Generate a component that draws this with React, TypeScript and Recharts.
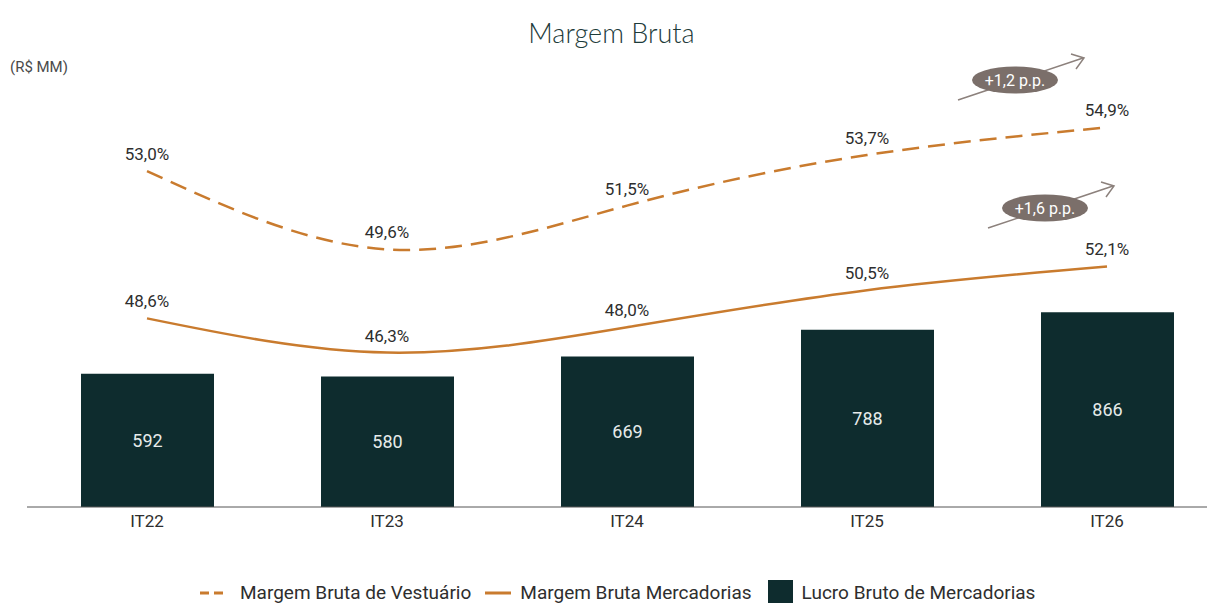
import {
  Bar,
  ComposedChart,
  LabelList,
  Line,
  XAxis,
  YAxis,
} from "recharts";

const categories = ["IT22", "IT23", "IT24", "IT25", "IT26"];
const lucroBruto = [592, 580, 669, 788, 866];
const margemMercadorias = [48.6, 46.3, 48.0, 50.5, 52.1];
const margemVestuario = [53.0, 49.6, 51.5, 53.7, 54.9];
const deltaLabels = ["+1,2 p.p.", "+1,6 p.p."];

const data = categories.map((name, i) => ({
  name,
  lucro: lucroBruto[i],
  mercadorias: margemMercadorias[i],
  vestuario: margemVestuario[i],
}));

const ORANGE = "#c97b2e";
const BAR = "#0e2c2e";
const TEXT = "#2e2e2e";
const FONT = "Roboto, 'Noto Sans', sans-serif";

const fmtPct = (v: unknown) => `${Number(v).toFixed(1).replace(".", ",")}%`;

function Delta({ x, y, label }: { x: number; y: number; label: string }) {
  // pill + arrow, drawn as an overlay
  return (
    <g>
      <line x1={x - 57} y1={y + 20} x2={x + 68} y2={y - 22} stroke="#8c817c" strokeWidth={1.5} />
      <polyline
        points={`${x + 56},${y - 26} ${x + 69},${y - 22} ${x + 61},${y - 11}`}
        fill="none"
        stroke="#8c817c"
        strokeWidth={1.5}
      />
      <ellipse cx={x} cy={y} rx={43} ry={13.5} fill="#7b6f6a" />
      <text x={x} y={y + 6} textAnchor="middle" fill="#fff" fontSize={16} fontFamily={FONT}>
        {label}
      </text>
    </g>
  );
}

export default function App() {
  return (
    <div style={{ position: "relative", width: 1219, height: 595, fontFamily: FONT }}>
      <div
        style={{
          position: "absolute",
          left: 0,
          width: 1207,
          top: 8,
          textAlign: "center",
          fontFamily: "Lato, sans-serif",
          fontWeight: 300,
          fontSize: 27,
          color: "#1d3b3a",
        }}
      >
        Margem Bruta
      </div>
      <div style={{ position: "absolute", left: 2, top: 50, fontSize: 15, color: "#4a4a4a" }}>
        (R$ MM)
      </div>

      <ComposedChart
        width={1219}
        height={529}
        data={data}
        margin={{ top: 49, right: 0, left: 19, bottom: 0 }}
        style={{ position: "absolute", left: 0, top: 0 }}
      >
        <XAxis
          dataKey="name"
          tickLine={false}
          axisLine={{ stroke: "#555", strokeWidth: 1 }}
          tick={{ fill: TEXT, fontSize: 17, fontFamily: FONT }}
          height={30}
        />
        <YAxis yAxisId="bar" hide domain={[0, 2000]} />
        <YAxis yAxisId="merc" hide domain={[35.9, 66.2]} />
        <YAxis yAxisId="vest" hide domain={[38.4, 57.96]} />
        <Bar yAxisId="bar" dataKey="lucro" fill={BAR} barSize={133} isAnimationActive={false}>
          <LabelList dataKey="lucro" position="center" fill="#e6ebea" fontSize={18} fontFamily={FONT} />
        </Bar>
        <Line
          yAxisId="merc"
          type="natural"
          dataKey="mercadorias"
          stroke={ORANGE}
          strokeWidth={2.5}
          dot={false}
          isAnimationActive={false}
        >
          <LabelList dataKey="mercadorias" position="top" offset={11} formatter={fmtPct} fill={TEXT} fontSize={17} fontFamily={FONT} />
        </Line>
        <Line
          yAxisId="vest"
          type="natural"
          dataKey="vestuario"
          stroke={ORANGE}
          strokeWidth={2.5}
          strokeDasharray="17 9"
          dot={false}
          isAnimationActive={false}
        >
          <LabelList dataKey="vestuario" position="top" offset={11} formatter={fmtPct} fill={TEXT} fontSize={17} fontFamily={FONT} />
        </Line>
      </ComposedChart>

      <svg width={1219} height={595} style={{ position: "absolute", left: 0, top: 0, pointerEvents: "none" }}>
        <Delta x={1007} y={72} label={deltaLabels[0]} />
        <Delta x={1037} y={200} label={deltaLabels[1]} />
      </svg>

      <div
        style={{
          position: "absolute",
          top: 572,
          left: 192,
          display: "flex",
          alignItems: "center",
          fontSize: 19,
          color: TEXT,
          whiteSpace: "nowrap",
        }}
      >
        <svg width={26} height={10} style={{ marginRight: 14 }}>
          <line x1={0} y1={5} x2={26} y2={5} stroke={ORANGE} strokeWidth={3} strokeDasharray="9 5" />
        </svg>
        <span style={{ marginRight: 14 }}>Margem Bruta de Vestuário</span>
        <svg width={26} height={10} style={{ marginRight: 9 }}>
          <line x1={0} y1={5} x2={26} y2={5} stroke={ORANGE} strokeWidth={3} />
        </svg>
        <span style={{ marginRight: 16 }}>Margem Bruta Mercadorias</span>
        <div style={{ width: 25, height: 25, background: BAR, marginRight: 9 }} />
        <span>Lucro Bruto de Mercadorias</span>
      </div>
    </div>
  );
}
